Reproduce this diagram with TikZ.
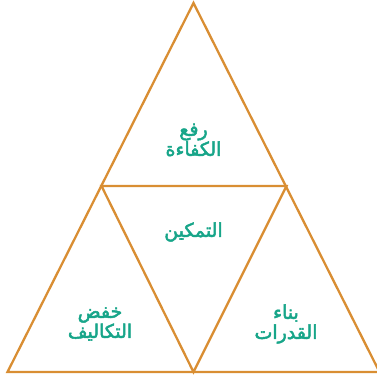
\documentclass[tikz,border=0pt]{standalone}
\usepackage{fontspec}
\newfontfamily\arabicfont[Script=Arabic,FakeBold=2.6]{DejaVu Sans}
\TeXXeTstate=1
\usepackage{tikz}
\definecolor{edgeorange}{HTML}{D98E33}
\definecolor{labelteal}{HTML}{17A589}

\begin{document}
\begin{tikzpicture}[
    x=1pt, y=-1pt,
    edge/.style={draw=edgeorange, line width=2.3pt, line join=miter},
    lbl/.style={text=labelteal, align=center, font=\arabicfont\fontsize{19}{20}\selectfont},
]
    \useasboundingbox (0,0) rectangle (376,378);

    % Corners of the big triangle and the midpoints of its sides
    \coordinate (top) at (193.5,3);
    \coordinate (bl) at (7.5,372);
    \coordinate (br) at (379.5,372);
    \coordinate (ml) at (101.5,186);
    \coordinate (mr) at (286.5,186);
    \coordinate (mb) at (193.5,372);

    % Outer triangle and the inner (inverted) one
    \draw[edge] (top) -- (bl) -- (br) -- cycle;
    \draw[edge] (ml) -- (mr) -- (mb) -- cycle;

    % Labels
    \node[lbl] (efficiency) at (193.5,140) {\beginR رفع\endR\\\beginR الكفاءة\endR};
    \node[lbl] (empower) at (193.5,232) {\beginR التمكين\endR};
    \node[lbl] (costs) at (100,324) {\beginR خفض\endR\\\beginR التكاليف\endR};
    \node[lbl] (capacity) at (286,324) {\beginR بناء\endR\\\beginR القدرات\endR};
\end{tikzpicture}
\end{document}
